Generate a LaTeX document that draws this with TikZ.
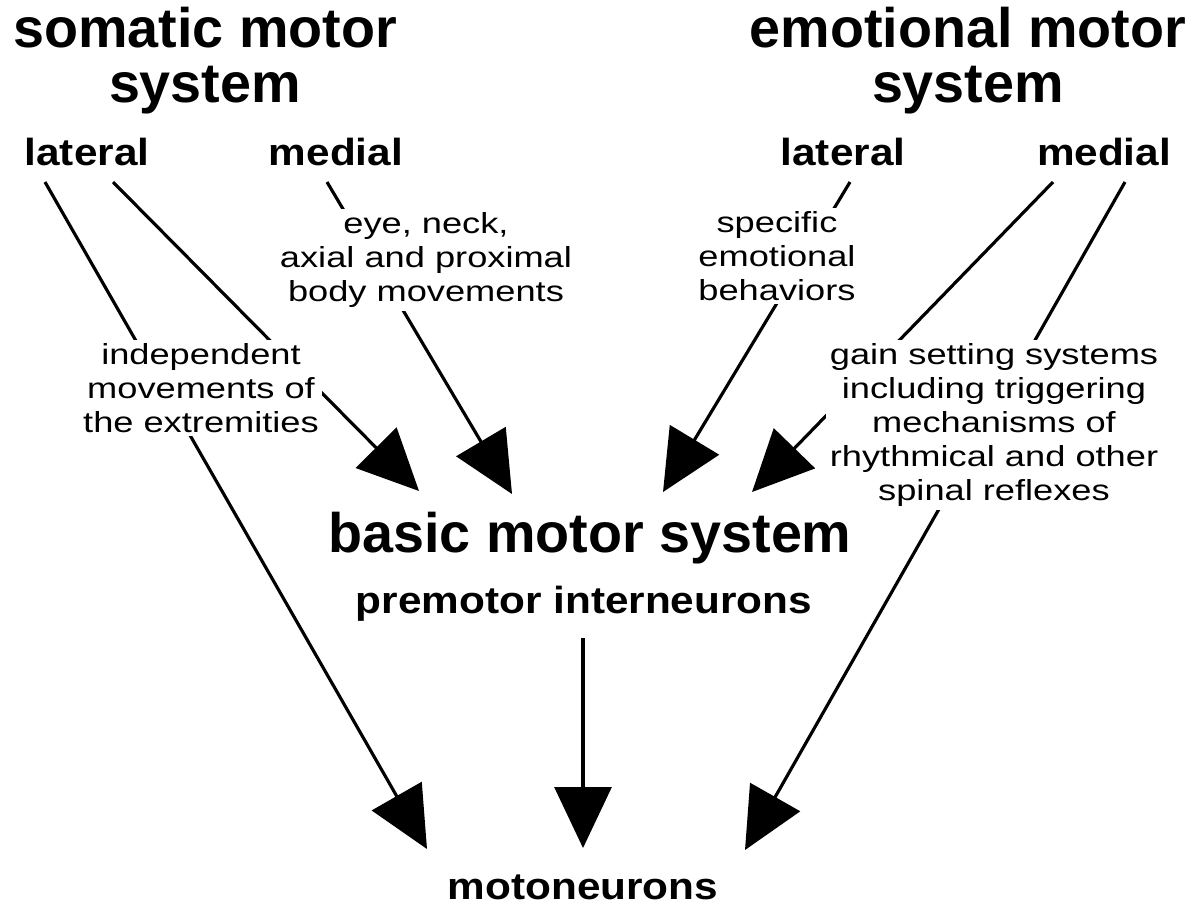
\documentclass[tikz,border=0pt]{standalone}
\usepackage{fontspec}
\setmainfont{Liberation Sans}
\newfontfamily\branchfont{Liberation Sans}[FakeStretch=1.12]
\newfontfamily\rolefont{Liberation Sans}[FakeStretch=1.25]
\usetikzlibrary{arrows.meta,backgrounds}

\begin{document}
\begin{tikzpicture}[x=0.02cm,y=-0.02cm,
  title/.style={font=\fontsize{31.7}{31.3}\selectfont\bfseries, align=center, inner sep=0pt},
  branch/.style={font=\fontsize{21.5}{24}\selectfont\branchfont\bfseries, anchor=base, inner sep=0pt},
  role/.style={font=\fontsize{16.5}{19.3}\selectfont\rolefont, align=center, fill=white, inner sep=2pt},
  conn/.style={line width=1.8pt, -{Triangle[length=1.22cm,width=1.14cm]}}]
\useasboundingbox (0,0) rectangle (1199,907);
% systems and their branches
\node[title] (somatic) at (205,61) {somatic motor\\system};
\node[title] (emotional) at (968,61) {emotional motor\\system};
\node[branch] (latS) at (87,165) {lateral};
\node[branch] (medS) at (336,165) {medial};
\node[branch] (latE) at (843,165) {lateral};
\node[branch] (medE) at (1104,165) {medial};
% what each pathway does
\node[role] (extrem) at (201,388) {independent\\movements of\\the extremities};
\node[role] (axial) at (426,260) {eye, neck,\\axial and proximal\\body movements};
\node[role] (specific) at (777,256) {specific\\emotional\\behaviors};
\node[role] (gain) at (994,425) {gain setting systems\\including triggering\\mechanisms of\\rhythmical and other\\spinal reflexes};
% targets
\node[font=\fontsize{31.7}{34}\selectfont\bfseries, anchor=base, inner sep=0pt] (basic) at (590,552) {basic motor system};
\node[branch] (premotor) at (584,613) {premotor interneurons};
\node[branch] (moto) at (583,899) {motoneurons};
% start and end points of the pathways
\coordinate (latS1) at (45,182);   \coordinate (latS2) at (113,182);
\coordinate (medS1) at (327,182);  \coordinate (latE1) at (850,182);
\coordinate (medE1) at (1053,182); \coordinate (medE2) at (1125,182);
\coordinate (preS) at (583,638);
\coordinate (inB1) at (419,491);   \coordinate (inB2) at (512,494);
\coordinate (inB3) at (663,492);   \coordinate (inB4) at (752,492);
\coordinate (inM1) at (427,849);   \coordinate (inM2) at (583,848);
\coordinate (inM3) at (745,850);
\begin{pgfonlayer}{background}
\draw[conn] (latS1) -- (inM1);
\draw[conn] (latS2) -- (inB1);
\draw[conn] (medS1) -- (inB2);
\draw[conn] (latE1) -- (inB3);
\draw[conn] (medE1) -- (inB4);
\draw[conn] (medE2) -- (inM3);
\draw[conn] (preS) -- (inM2);
\end{pgfonlayer}
\end{tikzpicture}
\end{document}
